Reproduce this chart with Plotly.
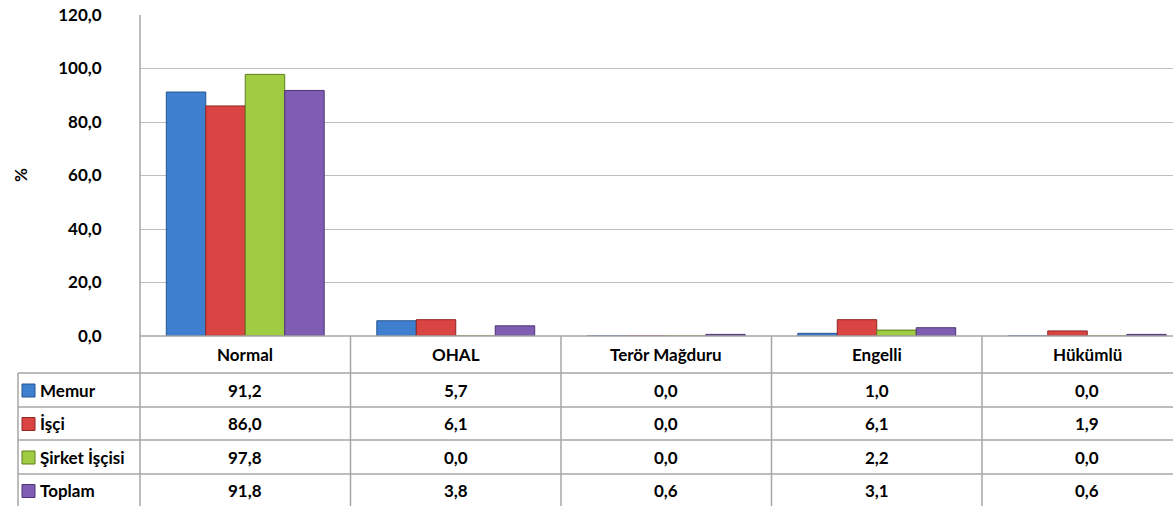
import plotly.graph_objects as go

categories = ["Normal", "OHAL", "Terör Mağduru", "Engelli", "Hükümlü"]
series_names = ["Memur", "İşçi", "Şirket İşçisi", "Toplam"]
memur = [91.2, 5.7, 0.0, 1.0, 0.0]
isci = [86.0, 6.1, 0.0, 6.1, 1.9]
sirket = [97.8, 0.0, 0.0, 2.2, 0.0]
toplam = [91.8, 3.8, 0.6, 3.1, 0.6]
y_ticks = [0, 20, 40, 60, 80, 100, 120]

series_values = [memur, isci, sirket, toplam]
colors = ["#3F7FD0", "#DA4442", "#9FCC40", "#7E5DB2"]
line_colors = ["#24558F", "#8E2624", "#5E7D1E", "#4E3476"]

W, H = 1173, 506
L, R_px, T, B = 140, 1173, 15, 336
col_w = 210.5

def px_x(px):
    return (px - L) / (R_px - L)

def px_y(py):
    return (B - py) / (B - T)

FONT = "Lato"
FS = 17
fig = go.Figure()
for name, vals, c, lc in zip(series_names, series_values, colors, line_colors):
    fig.add_trace(go.Bar(
        x=list(range(len(categories))), y=vals, name=name,
        marker=dict(color=c, line=dict(color=lc, width=1)),
        showlegend=False,
    ))

shapes = []
ann = []
grid_col = "#A6A6A6"
row_y = [336, 373, 407, 440, 474, 507]
for i, yy in enumerate(row_y):
    x0 = L if i == 0 else 18
    shapes.append(dict(type="line", xref="paper", yref="paper",
                       x0=px_x(x0), x1=1.02, y0=px_y(yy), y1=px_y(yy),
                       line=dict(color=grid_col, width=1.5)))
shapes.append(dict(type="line", xref="paper", yref="paper",
                   x0=px_x(L), x1=px_x(L), y0=1, y1=px_y(510),
                   line=dict(color=grid_col, width=1.5)))
shapes.append(dict(type="line", xref="paper", yref="paper",
                   x0=px_x(18), x1=px_x(18), y0=px_y(373), y1=px_y(510),
                   line=dict(color=grid_col, width=1.5)))
for k in range(1, len(categories)):
    xx = L + k * col_w
    shapes.append(dict(type="line", xref="paper", yref="paper",
                       x0=px_x(xx), x1=px_x(xx), y0=px_y(336), y1=px_y(510),
                       line=dict(color=grid_col, width=1.5)))

for k, cat in enumerate(categories):
    ann.append(dict(x=px_x(L + (k + 0.5) * col_w), y=px_y(355), xref="paper", yref="paper",
                    xanchor="center", yanchor="middle",
                    text=f"<b>{cat}</b>", showarrow=False,
                    font=dict(family=FONT, size=FS, color="#000")))
for r, (name, vals, c, lc) in enumerate(zip(series_names, series_values, colors, line_colors)):
    yc = (row_y[r + 1] + row_y[r + 2]) / 2
    shapes.append(dict(type="rect", xref="paper", yref="paper",
                       x0=px_x(22), x1=px_x(35), y0=px_y(yc - 6), y1=px_y(yc + 7),
                       fillcolor=c, line=dict(color=lc, width=1)))
    ann.append(dict(x=px_x(38), y=px_y(yc), xref="paper", yref="paper",
                    xanchor="left", yanchor="middle",
                    text=f"<b>{name}</b>", showarrow=False,
                    font=dict(family=FONT, size=FS, color="#000")))
    for k, v in enumerate(vals):
        ann.append(dict(x=px_x(L + (k + 0.5) * col_w), y=px_y(yc), xref="paper", yref="paper",
                        xanchor="center", yanchor="middle",
                        text="<b>" + f"{v:.1f}".replace(".", ",") + "</b>", showarrow=False,
                        font=dict(family=FONT, size=FS, color="#000")))

ann.append(dict(x=px_x(20), y=px_y(175), xref="paper", yref="paper",
                xanchor="center", yanchor="middle",
                text="<b>%</b>", showarrow=False, textangle=-90,
                font=dict(family=FONT, size=FS, color="#000")))

x_max = -0.5 + (R_px - L) / col_w
fig.update_layout(
    width=W, height=H,
    margin=dict(l=L, r=W - R_px, t=T, b=H - B),
    plot_bgcolor="white", paper_bgcolor="white",
    barmode="group", bargap=0.25, bargroupgap=0.0,
    separators=",.",
    shapes=shapes, annotations=ann,
    xaxis=dict(range=[-0.5, x_max], showticklabels=False, showgrid=False,
               zeroline=False, showline=False, fixedrange=True),
    yaxis=dict(range=[0, 120], tickvals=y_ticks, tickformat=".1f",
               showgrid=True, gridcolor="#BFBFBF", gridwidth=1,
               zeroline=False, showline=False,
               ticks="outside", ticklen=34, tickcolor="rgba(0,0,0,0)",
               tickfont=dict(family=FONT, size=FS, color="#000", weight="bold")),
    font=dict(family=FONT),
)
fig.write_html("out.html", config={"displayModeBar": False},
               post_script="document.body.style.margin='0px';")
